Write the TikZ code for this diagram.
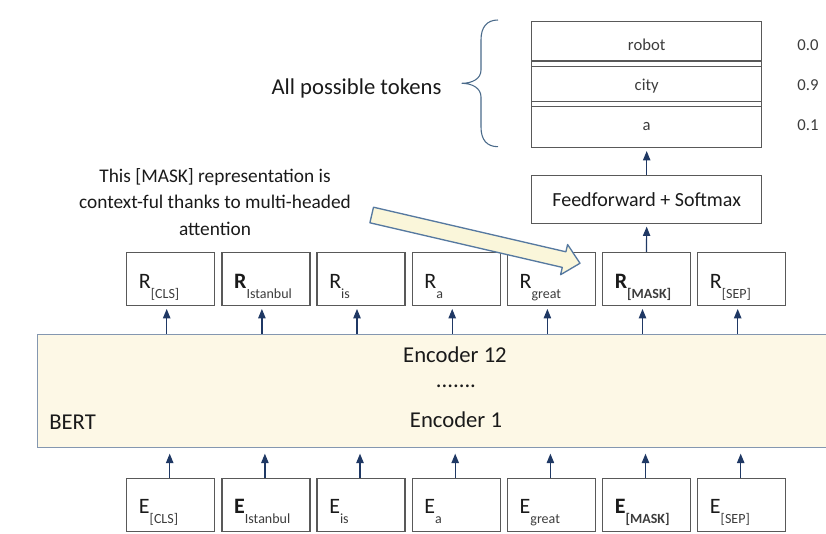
\documentclass[tikz,border=0pt]{standalone}
\usepackage{fontspec}
\setmainfont{Carlito}
\usetikzlibrary{arrows.meta,calc}
\definecolor{boxline}{RGB}{89,89,89}
\definecolor{arrcol}{RGB}{31,56,100}
\definecolor{bertfill}{RGB}{253,248,230}
\definecolor{bertline}{RGB}{132,151,176}
\definecolor{bafill}{RGB}{250,246,218}
\definecolor{baline}{RGB}{86,121,160}
\definecolor{bracecol}{RGB}{74,106,138}
\definecolor{txt}{RGB}{26,26,26}
\definecolor{subtxt}{RGB}{60,60,60}
\newcommand{\tokl}[2]{{\fontsize{16.5}{18}\selectfont #1}\raisebox{-7.5pt}{\fontsize{10.5}{12}\selectfont\color{subtxt}#2}}
\tikzset{
  tokbox/.style={draw=boxline, line width=1pt, minimum width=66pt, minimum height=39.75pt, inner sep=0pt},
  lbl/.style={anchor=base west, inner sep=0pt, text=txt},
  arr/.style={draw=arrcol, line width=0.9pt, -{Triangle[width=5.5pt,length=7pt]}},
  wide/.style={draw=boxline, line width=1pt, minimum width=172.5pt, inner sep=0pt},
  small/.style={inner sep=0pt, anchor=base, text=subtxt, font=\fontsize{12.5}{14}\selectfont},
  big/.style={inner sep=0pt, anchor=base, text=txt, font=\fontsize{17}{20}\selectfont}
}
\begin{document}
\begin{tikzpicture}[x=0.75pt,y=-0.75pt]
\useasboundingbox (0,0) rectangle (826,533);

% BERT block
\node[draw=bertline, fill=bertfill, line width=1pt, minimum width=594.5pt, minimum height=85pt, inner sep=0pt] (bert) at (433.65,391) {};
\node[big] (enc12) at (455,362.3) {Encoder 12};
\node[big] (dots) at (456,387) {.......};
\node[big] (enc1) at (456,427.7) {Encoder 1};
\node[big, anchor=base west] (bertlbl) at (49,429) {BERT};

% R boxes
\node[tokbox] (R1) at (170.7,279.1) {};
\node[tokbox] (R2) at (265.9,279.1) {};
\node[tokbox] (R3) at (361.0,279.1) {};
\node[tokbox] (R4) at (456.2,279.1) {};
\node[tokbox] (R5) at (551.4,279.1) {};
\node[tokbox] (R6) at (646.5,279.1) {};
\node[tokbox] (R7) at (741.7,279.1) {};
\node[lbl] (R1l) at (138.7,288.3) {\tokl{R}{[CLS]}};
\node[lbl] (R2l) at (233.9,288.3) {\tokl{\textbf{R}}{Istanbul}};
\node[lbl] (R3l) at (329.0,288.3) {\tokl{R}{is}};
\node[lbl] (R4l) at (424.2,288.3) {\tokl{R}{a}};
\node[lbl] (R5l) at (519.4,288.3) {\tokl{R}{great}};
\node[lbl] (R6l) at (614.5,288.3) {\tokl{\textbf{R}}{\textbf{[MASK]}}};
\node[lbl] (R7l) at (709.7,288.3) {\tokl{R}{[SEP]}};

% E boxes
\node[tokbox] (E1) at (170.7,505) {};
\node[tokbox] (E2) at (265.9,505) {};
\node[tokbox] (E3) at (361.0,505) {};
\node[tokbox] (E4) at (456.2,505) {};
\node[tokbox] (E5) at (551.4,505) {};
\node[tokbox] (E6) at (646.5,505) {};
\node[tokbox] (E7) at (741.7,505) {};
\node[lbl] (E1l) at (138.7,513.8) {\tokl{E}{[CLS]}};
\node[lbl] (E2l) at (233.9,513.8) {\tokl{\textbf{E}}{Istanbul}};
\node[lbl] (E3l) at (329.0,513.8) {\tokl{E}{is}};
\node[lbl] (E4l) at (424.2,513.8) {\tokl{E}{a}};
\node[lbl] (E5l) at (519.4,513.8) {\tokl{E}{great}};
\node[lbl] (E6l) at (614.5,513.8) {\tokl{\textbf{E}}{\textbf{[MASK]}}};
\node[lbl] (E7l) at (709.7,513.8) {\tokl{E}{[SEP]}};

% arrows BERT -> R
\foreach \i in {1,...,7}{
  \draw[arr, shorten >=2pt] ([xshift=-3pt]R\i.south |- bert.north) -- ([xshift=-3pt]R\i.south);
  \draw[arr, shorten >=4pt] ([xshift=-0.75pt]E\i.north) -- ([xshift=-0.75pt]E\i.north |- bert.south);
}

% Feedforward + stack
\node[wide, minimum height=35.7pt, text=txt, font=\fontsize{15}{17}\selectfont] (ff) at (646.7,199.5) {Feedforward + Softmax};
\node[wide, minimum height=94.5pt] (stack) at (646.7,84.7) {};
\node[wide, minimum height=29.5pt] (robotbox) at (646.7,41.35) {};
\node[wide, minimum height=26.25pt] (citybox) at (646.7,84.2) {};
\node[wide, minimum height=30.75pt] (abox) at (646.7,127.2) {};
\node[small] (robot) at (646.7,50) {robot};
\node[small] (city) at (646.7,90) {city};
\node[small] (atok) at (646.7,130) {a};
\node[small] (p1) at (808,50) {0.0};
\node[small] (p2) at (808,90) {0.9};
\node[small] (p3) at (808,130) {0.1};
\draw[arr, shorten >=2pt] (R6.north) -- (ff.south);
\draw[arr, shorten >=2pt] (ff.north) -- (stack.south);

% brace and label
\draw[bracecol, line width=0.8pt] (498,20) .. controls (487,20) and (481,27) .. (481,40) -- (481,70)
  .. controls (481,79) and (472,83.3) .. (461.7,83.3)
  .. controls (472,83.3) and (481,88) .. (481,97) -- (481,127)
  .. controls (481,140) and (487,146.7) .. (498,146.7);
\node[big] (allpos) at (356.5,94.5) {All possible tokens};

% annotation
\node[inner sep=0pt, align=center, text=txt, font=\fontsize{14.5}{20}\selectfont] (note) at (215,202) {This [MASK] representation is\\context-ful thanks to multi-headed\\attention};
\begin{scope}[shift={(371.7,215)}, rotate=-13.05]
\draw[draw=baline, fill=bafill, line width=1pt, line join=round] (0,-8) -- (197.5,-8) -- (197.5,-15.5) -- (213.8,0) -- (197.5,15.5) -- (197.5,8) -- (0,8) -- cycle;
\end{scope}
\end{tikzpicture}
\end{document}
